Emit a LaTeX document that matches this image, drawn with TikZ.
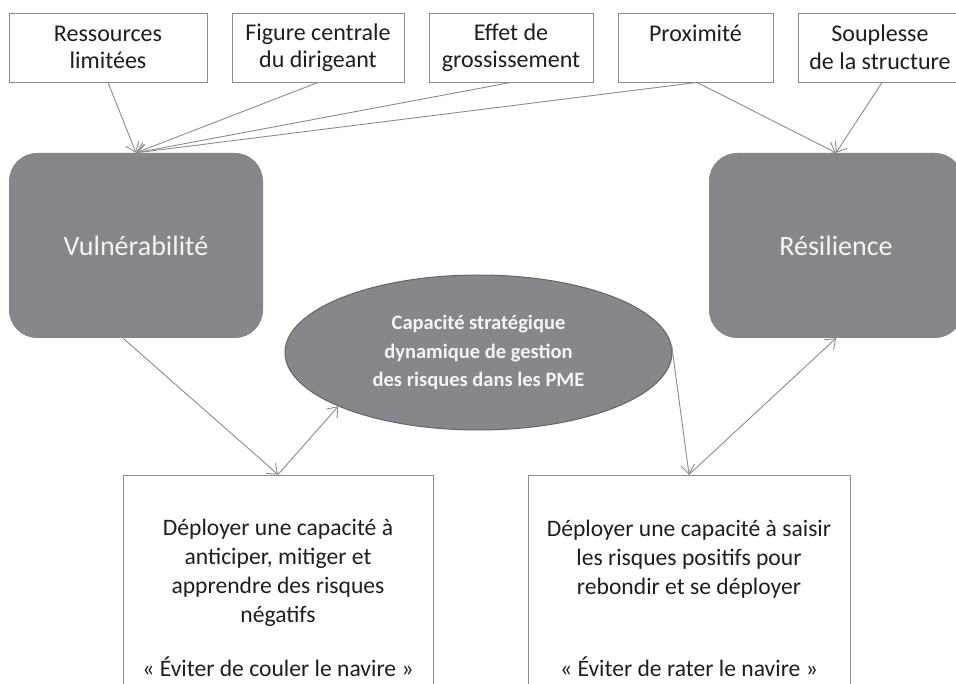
\documentclass[tikz,border=0pt]{standalone}
\usepackage{fontspec}
\setmainfont{Carlito}
\usetikzlibrary{shapes.geometric,arrows.meta,calc}
\definecolor{boxfill}{RGB}{134,135,139}
\definecolor{edgegray}{RGB}{140,140,140}
\definecolor{ellline}{RGB}{100,100,104}
\definecolor{txtlight}{RGB}{244,244,244}
\definecolor{txtdark}{RGB}{30,30,30}
\tikzset{
  topbox/.style={draw=edgegray, line width=0.9pt, minimum height=69pt, inner sep=0pt,
    align=center, text=txtdark, font=\fontsize{24}{27.5}\selectfont},
  bigbox/.style={fill=boxfill, draw=none, rounded corners=28pt, minimum width=254pt,
    minimum height=185pt, inner sep=0pt, text=txtlight, font=\fontsize{28}{32}\selectfont},
  lowbox/.style={draw=edgegray, line width=0.9pt, inner sep=0pt},
  lowtext/.style={align=center, text=txtdark, font=\fontsize{23.6}{28.8}\selectfont},
  conn/.style={draw=edgegray, line width=0.9pt, -{Straight Barb[length=9pt,width=14pt,line width=0.9pt]}},
}
\begin{document}
\begin{tikzpicture}[x=1pt,y=-1pt]
\clip (0,0) rectangle (956,684);
\fill[white] (0,0) rectangle (956,684);
% top boxes
\node[topbox, minimum width=198pt] (res) at (108,47.5) {Ressources\\limitées};
\node[topbox, minimum width=172pt] (fig) at (318,47.5) {Figure centrale\\du dirigeant};
\node[topbox, minimum width=164pt] (eff) at (511,47.5) {Effet de\\grossissement};
\node[topbox, minimum width=155pt] (prox) at (695.5,47.5) {Proximité\\\phantom{limitées}};
\node[topbox, minimum width=164pt] (soup) at (880,47.5) {Souplesse\\de la structure};
% main boxes
\node[bigbox] (vul) at (136,245.5) {Vulnérabilité};
\node[bigbox] (resil) at (836,245.5) {Résilience};
% ellipse
\node[ellipse, fill=boxfill, draw=ellline, line width=1pt, minimum width=387pt, minimum height=155pt,
  inner sep=0pt, align=center, text=txtlight, font=\bfseries\fontsize{20.5}{28.5}\selectfont]
  (cap) at (478.5,352.5) {Capacité stratégique\\dynamique de gestion\\des risques dans les PME};
% lower boxes (cut by the bottom edge)
\node[lowbox, minimum width=310pt, minimum height=260pt] (lb) at (278,605) {};
\node[lowbox, minimum width=322pt, minimum height=260pt] (rb) at (689,605) {};
\node[lowtext] (lbt) at (278,573) {Déployer une capacité à\\anticiper, mitiger et\\apprendre des risques\\négatifs};
\node[lowtext] (lbq) at (278,667) {« Éviter de couler le navire »};
\node[lowtext] (rbt) at (689,559) {Déployer une capacité à saisir\\les risques positifs pour\\rebondir et se déployer};
\node[lowtext] (rbq) at (689,667) {« Éviter de rater le navire »};
% connectors
\draw[conn] (res.south) -- (vul.north);
\draw[conn] (fig.south) -- (vul.north);
\draw[conn] (eff.south) -- (vul.north);
\draw[conn] ($(prox.south)+(1.5,0)$) -- (vul.north);
\draw[conn] ($(prox.south)+(1.5,0)$) -- (resil.north);
\draw[conn] ($(soup.south)+(2,0)$) -- (resil.north);
\draw[conn] ($(vul.south)+(-13,0)$) -- (lb.north);
\draw[conn] (lb.north) -- (cap.201);
\draw[conn] (cap.2) -- (rb.north);
\draw[conn] (rb.north) -- (resil.south);
\end{tikzpicture}
\end{document}
